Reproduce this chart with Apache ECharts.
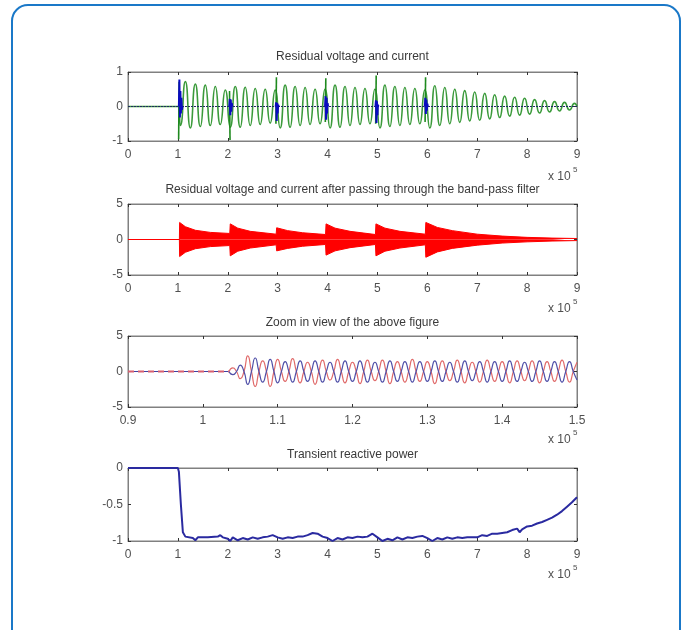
<!DOCTYPE html>
<html>
<head>
<meta charset="utf-8">
<title>Residual voltage and current</title>
<script src="https://cdn.jsdelivr.net/npm/echarts@6/dist/echarts.min.js"></script>
<style>html,body{margin:0;padding:0;background:#fff}#main{width:683px;height:630px}</style>
</head>
<body>
<div id="main"></div>
<script>
// ---- plot 1 : residual voltage (green) and current (blue) ----
// green wave: alternating troughs/peaks, first one at x=1.05, one every 0.1 (x 10^5)
var waveStart = 1.05, waveStep = 0.1;
var greenWave = [
  -0.55, 0.72, -0.62, 0.65, -0.58, 0.62, -0.55, 0.58, -0.52, 0.48,
  -0.60, 0.58, -0.60, 0.56, -0.55, 0.52, -0.52, 0.50, -0.48, 0.48,
  -0.62, 0.62, -0.60, 0.58, -0.55, 0.55, -0.52, 0.50, -0.50, 0.50,
  -0.62, 0.62, -0.60, 0.58, -0.55, 0.55, -0.52, 0.52, -0.50, 0.50,
  -0.62, 0.62, -0.58, 0.58, -0.55, 0.55, -0.52, 0.52, -0.50, 0.48,
  -0.62, 0.60, -0.55, 0.55, -0.50, 0.50, -0.46, 0.46, -0.42, 0.42,
  -0.40, 0.38, -0.36, 0.34, -0.32, 0.30, -0.28, 0.27, -0.25, 0.24,
  -0.22, 0.20, -0.19, 0.17, -0.16, 0.14, -0.13, 0.12, -0.10, 0.09
];
var greenSpikes = [
  [[1.015, -0.95], [1.025, 0.72]],
  [[2.035, 0.45], [2.045, -0.97]],
  [[2.965, -0.5], [2.975, 0.85]],
  [[3.955, -0.45], [3.965, 0.82]],
  [[4.965, -0.5], [4.975, 0.9]],
  [[5.955, -0.45], [5.965, 0.85]]
];
var blueBursts = [
  [[1.02, 0], [1.03, 0.78], [1.04, -0.32], [1.05, 0.45], [1.06, -0.2], [1.07, 0.25], [1.08, -0.1], [1.09, 0]],
  [[2.03, 0], [2.04, 0.22], [2.05, -0.25], [2.06, 0.2], [2.07, -0.15], [2.08, 0.1], [2.09, 0]],
  [[2.96, 0], [2.97, 0.12], [2.98, -0.42], [2.99, 0.1], [3.0, -0.2], [3.01, 0.05], [3.02, 0]],
  [[3.95, 0], [3.96, 0.3], [3.97, -0.38], [3.98, 0.25], [3.99, -0.2], [4.0, 0.1], [4.01, 0]],
  [[4.96, 0], [4.97, 0.18], [4.98, -0.48], [4.99, 0.15], [5.0, -0.25], [5.01, 0.05], [5.02, 0]],
  [[5.95, 0], [5.96, 0.25], [5.97, -0.22], [5.98, 0.2], [5.99, -0.12], [6.0, 0.08], [6.01, 0]]
];

// ---- plot 2 : after band-pass filter, envelope of the red signal ----
var filtUpper = [[0,0],[1.03,0],[1.035,2.4],[1.15,1.8],[1.35,1.3],[1.65,1.0],[2.04,0.85],
  [2.05,2.2],[2.2,1.6],[2.45,1.15],[2.97,0.75],[2.98,1.65],[3.2,1.25],[3.5,0.95],[3.96,0.7],
  [3.97,2.2],[4.15,1.6],[4.45,1.15],[4.96,0.7],[4.97,2.2],[5.15,1.6],[5.45,1.15],[5.96,0.75],
  [5.97,2.4],[6.2,1.7],[6.5,1.25],[7.0,0.75],[7.5,0.48],[8.0,0.3],[8.5,0.2],[9.0,0.14]];
var filtLower = [[0,0],[1.03,0],[1.035,-2.4],[1.15,-1.8],[1.35,-1.3],[1.65,-1.0],[2.04,-0.85],
  [2.05,-2.3],[2.2,-1.65],[2.45,-1.2],[2.97,-0.75],[2.98,-1.6],[3.2,-1.25],[3.5,-0.95],[3.96,-0.7],
  [3.97,-2.2],[4.15,-1.6],[4.45,-1.15],[4.96,-0.7],[4.97,-2.3],[5.15,-1.65],[5.45,-1.2],[5.96,-0.75],
  [5.97,-2.5],[6.2,-1.75],[6.5,-1.25],[7.0,-0.8],[7.5,-0.5],[8.0,-0.33],[8.5,-0.22],[9.0,-0.15]];

// ---- plot 3 : zoom 0.9 .. 1.5, samples from x=1.035 every 0.005 ----
var zoomStart = 1.035, zoomStep = 0.005;
var zoomRed = [0,0.5,0,-1.0,0,2.2,0,-2.1,0,1.5,0,-2.1,0,1.7,0,-1.4,0,1.8,0,-1.6,
  0,1.3,0,-1.8,0,1.6,0,-1.2,0,1.7,0,-1.6,0,1.3,0,-1.7,0,1.6,0,-1.3,
  0,1.6,0,-1.7,0,1.4,0,-1.5,0,1.7,0,-1.4,0,1.4,0,-1.7,0,1.5,0,-1.3,
  0,1.6,0,-1.6,0,1.3,0,-1.5,0,1.6,0,-1.4,0,1.4,0,-1.6,0,1.5,0,-1.3,
  0,1.5,0,-1.6,0,1.4,0,-1.4,0,1.6,0,-1.5,0,1.3];
var zoomBlue = [0,-0.45,0,0.9,0,-1.8,0,1.9,0,-1.5,0,1.7,0,-1.6,0,1.4,0,-1.5,0,1.5,
  0,-1.4,0,1.5,0,-1.5,0,1.3,0,-1.5,0,1.5,0,-1.4,0,1.5,0,-1.5,0,1.3,
  0,-1.5,0,1.5,0,-1.4,0,1.4,0,-1.5,0,1.4,0,-1.4,0,1.5,0,-1.4,0,1.3,
  0,-1.5,0,1.5,0,-1.3,0,1.4,0,-1.5,0,1.4,0,-1.4,0,1.5,0,-1.4,0,1.3,
  0,-1.4,0,1.5,0,-1.4,0,1.4,0,-1.5,0,1.4,0,-1.2];

// ---- plot 4 : transient reactive power ----
var powerX = [0,1.0,1.02,1.06,1.1,1.15,1.3,1.35,1.4,1.6,1.8,1.85,1.9,2.0,2.05,2.1,2.2,2.3,2.4,2.5,
  2.6,2.7,2.8,2.9,3.0,3.1,3.2,3.3,3.4,3.5,3.6,3.7,3.8,3.9,4.0,4.1,4.2,4.3,4.4,4.5,
  4.6,4.7,4.8,4.9,5.0,5.1,5.2,5.3,5.4,5.5,5.6,5.7,5.8,5.9,6.0,6.1,6.2,6.3,6.4,6.5,
  6.6,6.7,6.8,6.9,7.0,7.1,7.2,7.3,7.4,7.5,7.6,7.7,7.8,7.85,7.9,8.0,8.1,8.2,8.3,8.4,
  8.5,8.6,8.7,8.8,8.9,9.0];
var powerY = [0,0,-0.05,-0.5,-0.88,-0.94,-0.96,-0.99,-0.95,-0.95,-0.94,-0.92,-0.95,-0.97,-1.0,-0.95,-0.99,-0.96,-0.98,-0.95,
  -0.97,-0.95,-0.94,-0.92,-0.95,-0.97,-0.95,-0.96,-0.94,-0.94,-0.92,-0.89,-0.9,-0.94,-0.96,-1.0,-0.96,-0.98,-0.95,-0.96,
  -0.94,-0.95,-0.94,-0.9,-0.95,-1.0,-0.97,-0.99,-0.95,-0.98,-0.95,-0.96,-0.94,-0.93,-0.96,-1.0,-0.96,-0.98,-0.95,-0.97,
  -0.95,-0.96,-0.95,-0.95,-0.95,-0.92,-0.93,-0.9,-0.9,-0.89,-0.88,-0.85,-0.83,-0.88,-0.84,-0.8,-0.79,-0.76,-0.74,-0.71,
  -0.68,-0.64,-0.59,-0.53,-0.47,-0.4];

var titles = ['Residual voltage and current',
  'Residual voltage and current after passing through the band-pass filter',
  'Zoom in view of the above figure',
  'Transient reactive power'];

// boxes for the four subplots (pixel layout + axis ranges)
var boxes = [
  {top: 72, h: 69, xmin: 0, xmax: 9, xi: 1, ymin: -1, ymax: 1, yi: 1, ty: 57, ey: 177},
  {top: 204, h: 71, xmin: 0, xmax: 9, xi: 1, ymin: -5, ymax: 5, yi: 5, ty: 190, ey: 309},
  {top: 336, h: 71, xmin: 0.9, xmax: 1.5, xi: 0.1, ymin: -5, ymax: 5, yi: 5, ty: 323, ey: 440},
  {top: 468, h: 73, xmin: 0, xmax: 9, xi: 1, ymin: -1, ymax: 0, yi: 0.5, ty: 455, ey: 575}
];
var LEFT = 128, WIDTH = 449;
var axisGray = '#808080', txt = '#505050', font = 'Liberation Sans, Arial, sans-serif';

function pairs(start, step, ys) {
  var out = [];
  for (var i = 0; i < ys.length; i++) out.push([+(start + i * step).toFixed(4), ys[i]]);
  return out;
}
function zip(xs, ys) {
  var out = [];
  for (var i = 0; i < xs.length; i++) out.push([xs[i], ys[i]]);
  return out;
}

var grid = [], xAxis = [], yAxis = [], graphic = [];
boxes.forEach(function (b, g) {
  grid.push({left: LEFT, top: b.top, width: WIDTH, height: b.h, show: true,
    borderColor: axisGray, borderWidth: 1, backgroundColor: '#fff'});
  ['bottom', 'top'].forEach(function (pos) {
    xAxis.push({type: 'value', gridIndex: g, position: pos, min: b.xmin, max: b.xmax, interval: b.xi,
      axisLine: {show: true, onZero: false, lineStyle: {color: axisGray}},
      axisTick: {show: true, inside: true, length: 3, lineStyle: {color: '#333'}},
      axisLabel: {show: pos === 'bottom', color: txt, fontSize: 12, fontFamily: font, margin: 8},
      splitLine: {show: false}});
  });
  ['left', 'right'].forEach(function (pos) {
    yAxis.push({type: 'value', gridIndex: g, position: pos, min: b.ymin, max: b.ymax, interval: b.yi,
      axisLine: {show: true, onZero: false, lineStyle: {color: axisGray}},
      axisTick: {show: true, inside: true, length: 3, lineStyle: {color: '#333'}},
      axisLabel: {show: pos === 'left', color: txt, fontSize: 12, fontFamily: font, margin: 5},
      splitLine: {show: false}});
  });
  graphic.push({type: 'text', x: LEFT + WIDTH / 2, y: b.ty,
    style: {text: titles[g], fill: '#3a3a3a', font: '12px ' + font, textAlign: 'center', textVerticalAlign: 'middle'}});
  graphic.push({type: 'text', x: 548, y: b.ey,
    style: {text: 'x 10', fill: txt, font: '12px ' + font, textAlign: 'left', textVerticalAlign: 'middle'}});
  graphic.push({type: 'text', x: 573, y: b.ey - 7,
    style: {text: '5', fill: txt, font: '8px ' + font, textAlign: 'left', textVerticalAlign: 'middle'}});
});

// rounded blue frame
graphic.push({type: 'rect', shape: {x: 12, y: 5, width: 668, height: 700, r: 16}, z: -1,
  style: {fill: 'none', stroke: '#1a78c8', lineWidth: 2}});

function line(g, data, color, extra) {
  var s = {type: 'line', xAxisIndex: 2 * g, yAxisIndex: 2 * g, data: data, symbol: 'none',
    lineStyle: {color: color, width: 1}, itemStyle: {color: color}, animation: false, silent: true};
  for (var k in extra) s[k] = extra[k];
  return s;
}

var series = [];
// plot 1
series.push(line(0, [[0, 0], [1.0, 0]].concat(pairs(waveStart, waveStep, greenWave)).concat([[9, 0]]), '#3a9a3a',
  {smooth: 0.6, lineStyle: {color: '#3a9a3a', width: 1.6}}));
series.push(line(0, [[0, 0], [9, 0]], '#1f2a60', {lineStyle: {color: '#1f2a60', width: 1, type: [2, 1]}}));
greenSpikes.forEach(function (d) { series.push(line(0, d, '#1f8a1f', {lineStyle: {color: '#1f8a1f', width: 1.6}})); });
blueBursts.forEach(function (d) { series.push(line(0, d, '#0a0ac0', {lineStyle: {color: '#0a0ac0', width: 2}})); });
// plot 2
series.push(line(1, filtUpper, '#ff0000', {areaStyle: {color: '#ff0000', opacity: 1}}));
series.push(line(1, filtLower, '#ff0000', {areaStyle: {color: '#ff0000', opacity: 1}}));
// plot 3
series.push(line(2, [[0.9, 0], [zoomStart, 0]], '#4040a0', {lineStyle: {color: '#4040a0', width: 1.2}}));
series.push(line(2, [[0.9, 0], [zoomStart, 0]], '#d86070', {lineStyle: {color: '#d86070', width: 1.8, type: [6, 4]}}));
series.push(line(2, pairs(zoomStart, zoomStep, zoomRed), '#e06a6a', {smooth: 0.6, lineStyle: {color: '#e06a6a', width: 1.2}}));
series.push(line(2, pairs(zoomStart, zoomStep, zoomBlue), '#5050a8', {smooth: 0.6, lineStyle: {color: '#5050a8', width: 1.2}}));
// plot 4
series.push(line(3, zip(powerX, powerY), '#2a2aa0', {lineStyle: {color: '#2a2aa0', width: 2}}));

var myChart = echarts.init(document.getElementById('main'), null, {renderer: 'canvas'});
myChart.setOption({
  backgroundColor: '#fff',
  animation: false,
  grid: grid,
  xAxis: xAxis,
  yAxis: yAxis,
  graphic: graphic,
  series: series
});
</script>
</body>
</html>
